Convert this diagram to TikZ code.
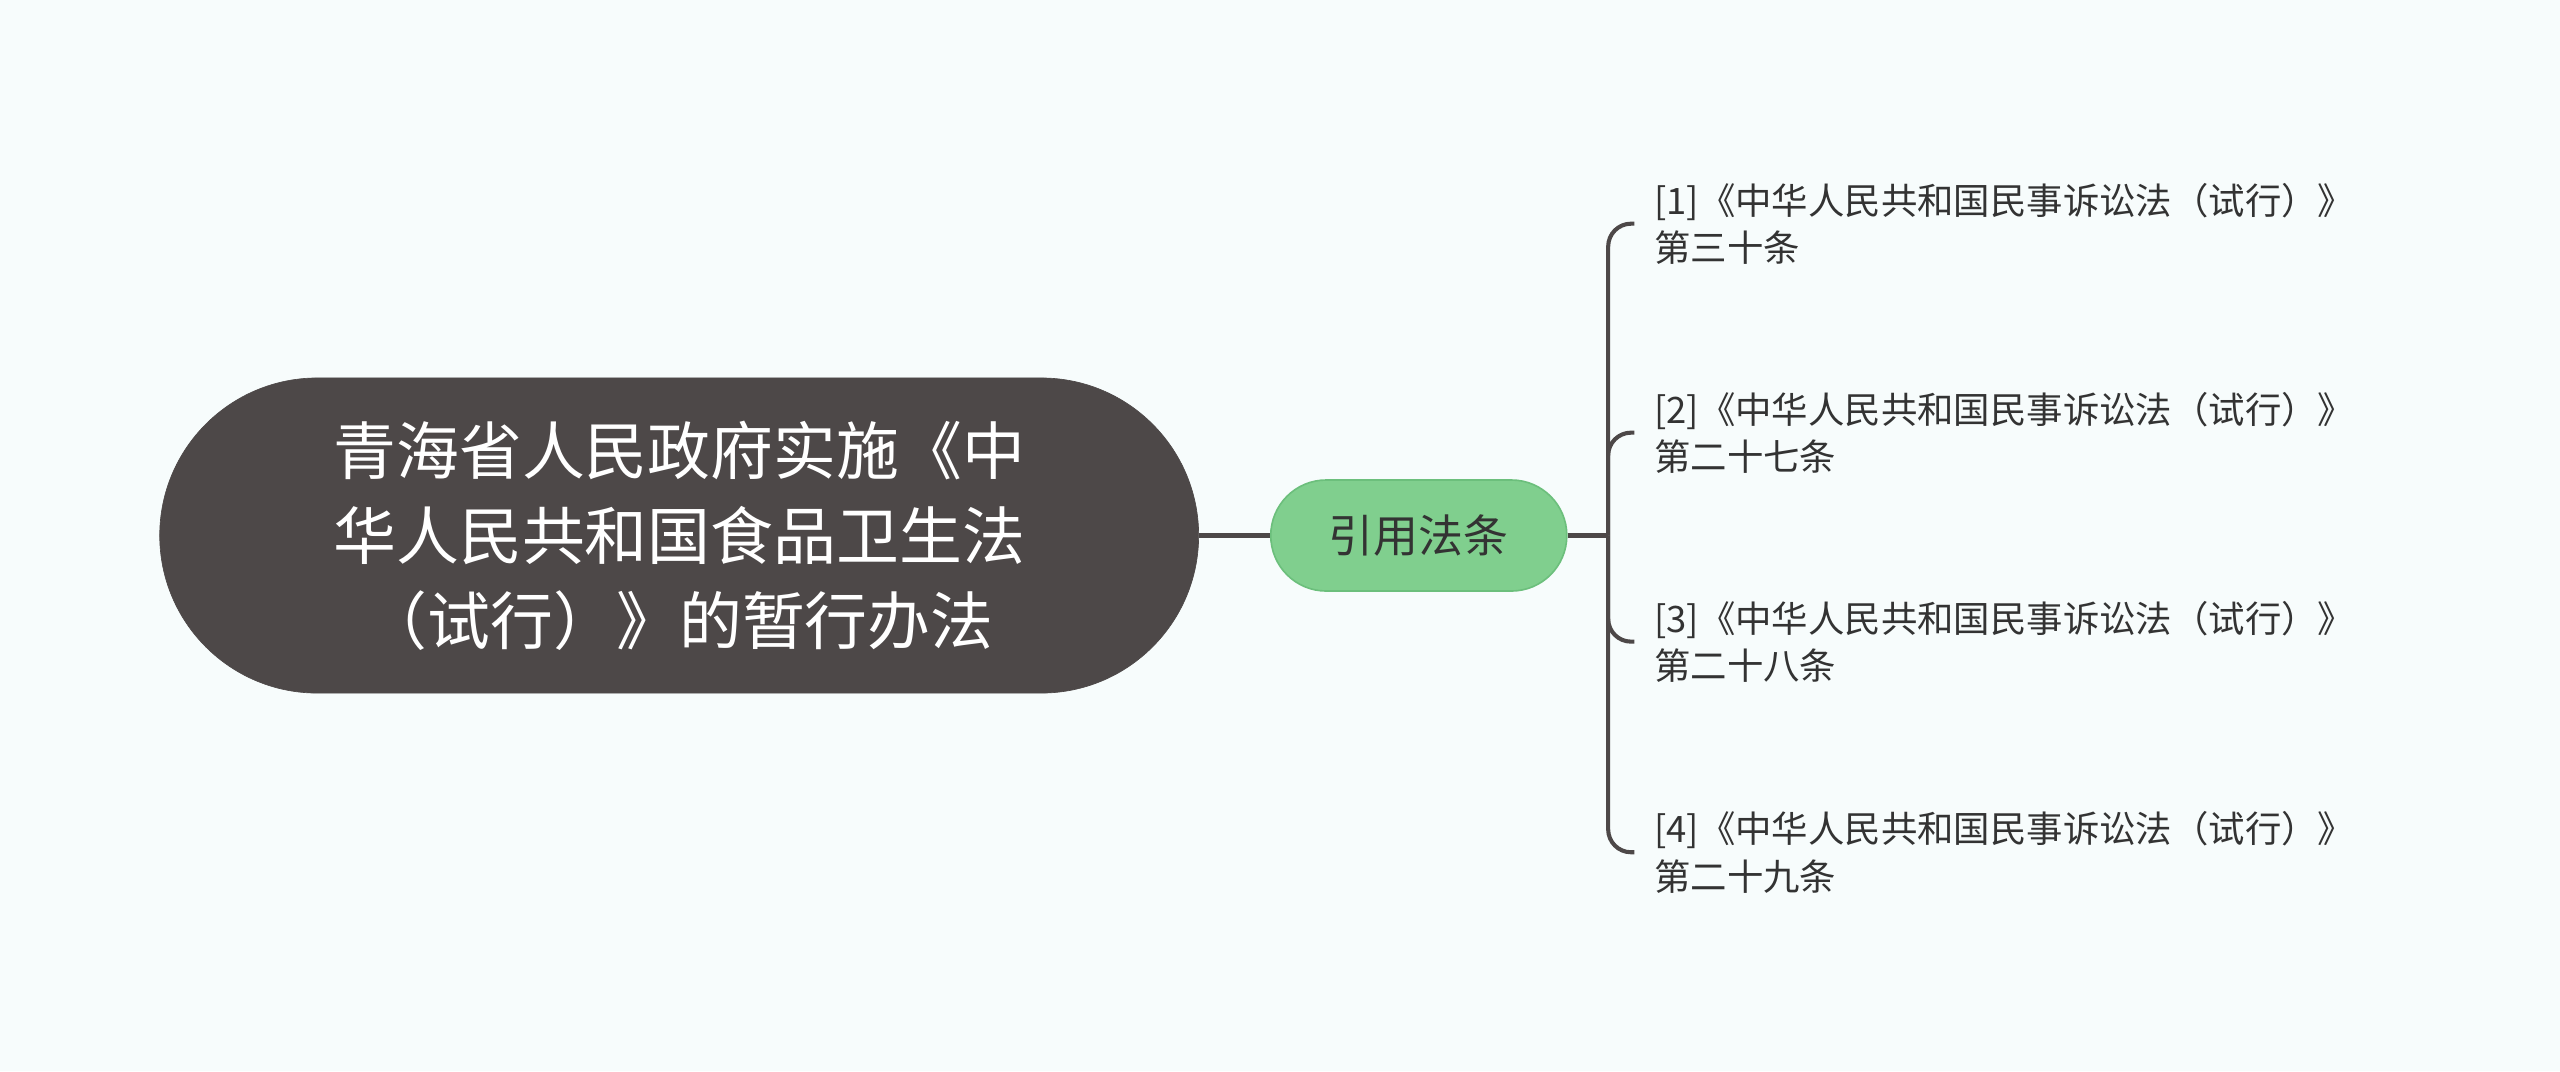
\documentclass[tikz,border=0pt]{standalone}
\usepackage{fontspec}
\setmainfont{Noto Sans CJK SC}
\definecolor{bg}{HTML}{F7FCFC}
\definecolor{dark}{HTML}{4D4848}
\definecolor{grn}{HTML}{80CF8E}
\definecolor{grnb}{HTML}{6CBF7C}
\definecolor{txt}{HTML}{333333}
\tikzset{
 root/.style={rounded rectangle, fill=dark, draw=dark, text=white, minimum width=643, minimum height=193, align=center, font=\fontsize{38.5}{52}\selectfont},
 mid/.style={rounded rectangle, fill=grn, draw=grnb, line width=1, text=txt, minimum width=188, minimum height=68, font=\fontsize{27.5}{34}\selectfont},
 leaf/.style={anchor=west, inner sep=0, align=left, text=txt, font=\fontsize{22.3}{29}\selectfont},
 conn/.style={draw=dark, line width=2.5}
}
\usetikzlibrary{shapes.misc}
\begin{document}
\begin{tikzpicture}[x=1pt,y=-1pt]
\fill[bg] (0,0) rectangle (1568,656);
\useasboundingbox (0,0) rectangle (1568,656);
\node[root] (r) at (416,328) {青海省人民政府实施《中\\华人民共和国食品卫生法\\（试行）》的暂行办法};
\node[mid] (m) at (869,328) {引用法条};
\draw[conn] (r.east) -- (m.west);
\coordinate (j) at (985,328);
\draw[conn] (m.east) -- (j);
\node[leaf] (l1) at (1013,137) {[1]《中华人民共和国民事诉讼法（试行）》\\第三十条};
\node[leaf] (l2) at (1013,265) {[2]《中华人民共和国民事诉讼法（试行）》\\第二十七条};
\node[leaf] (l3) at (1013,393) {[3]《中华人民共和国民事诉讼法（试行）》\\第二十八条};
\node[leaf] (l4) at (1013,522) {[4]《中华人民共和国民事诉讼法（试行）》\\第二十九条};
\foreach \l in {l1,l2,l3,l4}{
 \draw[conn, rounded corners=14] (j) |- ([xshift=-12]\l.west);
}
\end{tikzpicture}
\end{document}
